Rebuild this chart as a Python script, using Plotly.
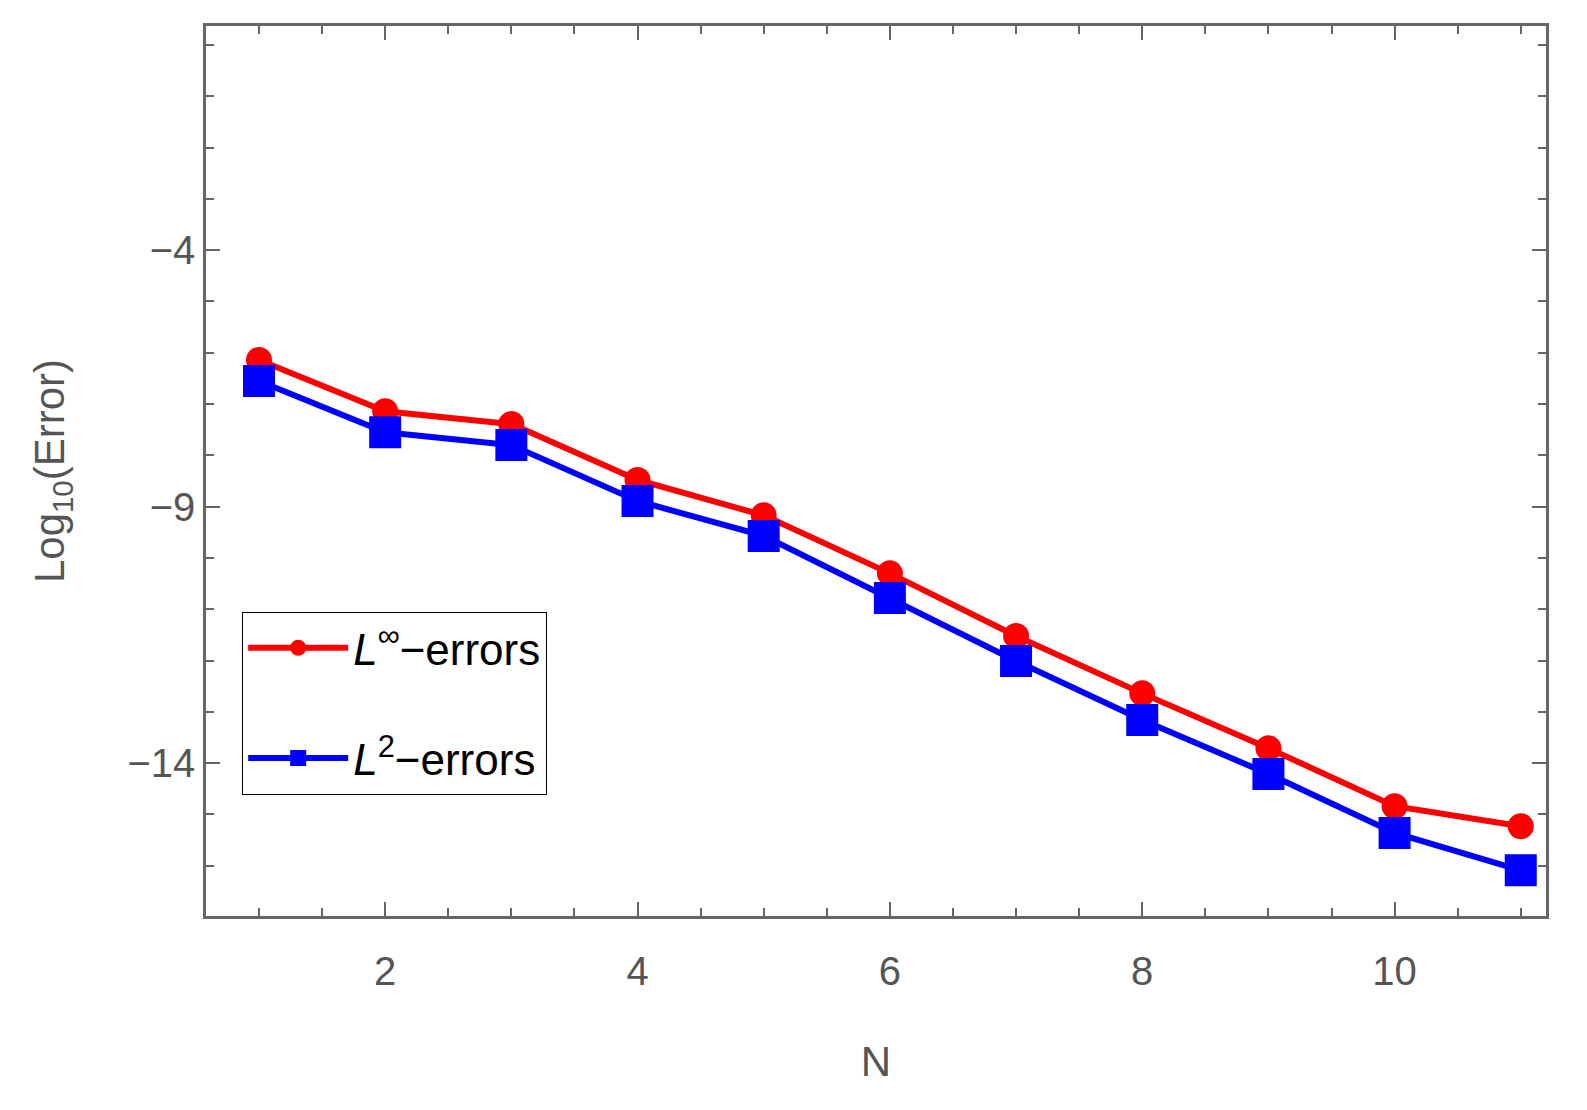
import plotly.graph_objects as go

N = [1, 2, 3, 4, 5, 6, 7, 8, 9, 10, 11]
linf = [-6.14, -7.14, -7.39, -8.48, -9.17, -10.30, -11.52, -12.64, -13.71, -14.84, -15.23]
l2 = [-6.55, -7.55, -7.80, -8.89, -9.57, -10.78, -12.01, -13.16, -14.21, -15.36, -16.09]

fig = go.Figure()
fig.add_trace(go.Scatter(x=N, y=linf, mode="lines+markers", name="<i>L</i><sup>∞</sup>−errors",
                         legendgroup="a",
                         line=dict(color="#ff0000", width=6),
                         marker=dict(symbol="circle", size=26, color="#ff0000")))
fig.add_trace(go.Scatter(x=N, y=l2, mode="lines+markers", name="<i>L</i><sup>2</sup>−errors",
                         legendgroup="b",
                         line=dict(color="#0000ff", width=6),
                         marker=dict(symbol="square", size=32, color="#0000ff")))

ax = dict(showgrid=False, zeroline=False, showline=True, linecolor="#666666", linewidth=2.5,
          mirror="ticks", ticks="inside", ticklen=14, tickwidth=2, tickcolor="#666666",
          tickfont=dict(family="Liberation Sans", size=40, color="#555555"),
          title_font=dict(family="Liberation Sans", size=42, color="#555555"))
fig.update_xaxes(**ax, range=[0.58, 11.2], tickvals=[2, 4, 6, 8, 10], title_text="N",
                 ticklabelstandoff=18, title_standoff=55,
                 minor=dict(dtick=0.5, ticks="inside", ticklen=8, tickcolor="#666666", tickwidth=2))
fig.update_yaxes(**ax, range=[-16.98, 0.37], tickvals=[-4, -9, -14], ticktext=["−4", "−9", "−14"],
                 title_text="Log<sub>10</sub>(Error)", title_standoff=50,
                 minor=dict(dtick=1, tick0=0, ticks="inside", ticklen=8, tickcolor="#666666", tickwidth=2))
fig.update_layout(width=1587, height=1110, margin=dict(l=198, r=49, t=18, b=202),
                  plot_bgcolor="white", paper_bgcolor="white", showlegend=True,
                  legend=dict(x=0.027, y=0.342, xanchor="left", yanchor="top",
                              bordercolor="#000000", borderwidth=1, bgcolor="white",
                              font=dict(family="Liberation Sans", size=44, color="#000000"),
                              itemwidth=100, traceorder="grouped", tracegroupgap=50))
fig.write_html("out.html")
